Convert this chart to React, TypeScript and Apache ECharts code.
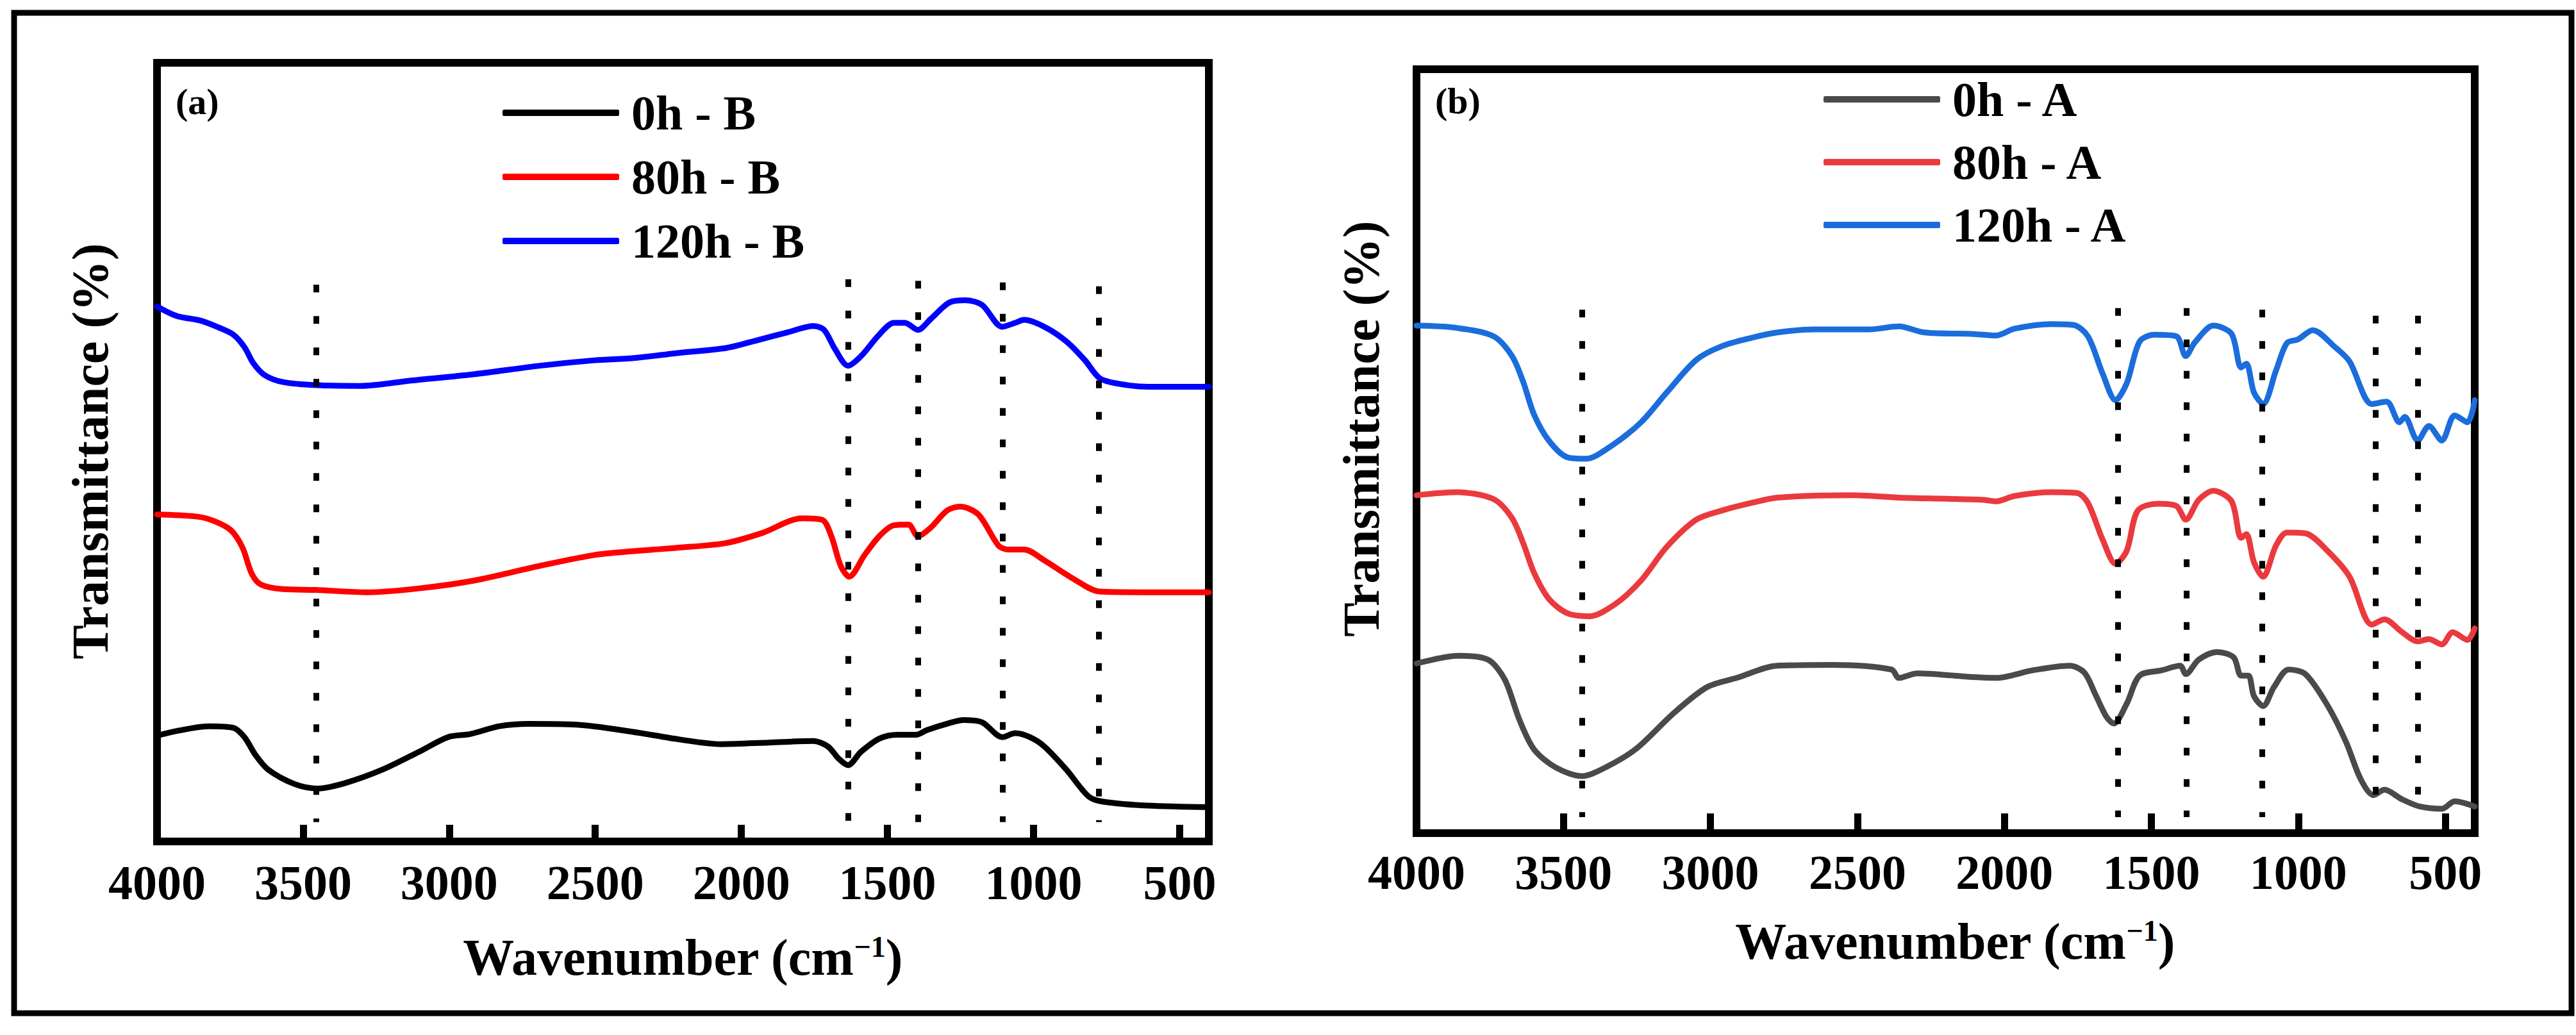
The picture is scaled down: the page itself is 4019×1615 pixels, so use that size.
import * as echarts from "echarts";
import { useEffect, useRef } from "react";
import type { EChartsOption } from "echarts";

const FONT = "'Liberation Serif', 'Times New Roman', serif";

// wavenumber (cm-1) ticks shared by both panels
const tickValues = [4000, 3500, 3000, 2500, 2000, 1500, 1000, 500];

// panel (a)
const namesA = ["0h - B", "80h - B", "120h - B"];
const colorsA = ["#000000", "#ff0000", "#0000ff"];
const peaksA = [3455, 1634, 1395, 1106, 777];
const peakTopsA = [71.5, 72.2, 72.0, 71.8, 71.3];

const curve0hB: [number, number][] = [
  [4000, 13.6], [3820, 14.8], [3739, 14.6], [3701, 13.4], [3663, 11.1], [3619, 9.2],
  [3531, 7.4], [3450, 6.8], [3356, 7.5], [3230, 9.2], [3104, 11.5], [3004, 13.4],
  [2928, 13.8], [2828, 14.8], [2727, 15.1], [2564, 15.0], [2375, 14.1], [2212, 13.1],
  [2069, 12.5], [1905, 12.7], [1754, 12.9], [1704, 12.2], [1666, 10.6], [1635, 9.8],
  [1591, 11.5], [1528, 13.2], [1465, 13.7], [1402, 13.7], [1365, 14.3], [1289, 15.2],
  [1239, 15.6], [1176, 15.3], [1107, 13.4], [1063, 13.9], [1013, 13.4], [963, 12.2],
  [887, 9.2], [812, 5.8], [761, 5.1], [611, 4.6], [400, 4.4],
];

const curve80hB: [number, number][] = [
  [4000, 42.0], [3858, 41.7], [3795, 41.0], [3745, 39.9], [3707, 37.7], [3676, 34.4],
  [3645, 33.0], [3569, 32.4], [3456, 32.3], [3280, 32.0], [3104, 32.5], [2916, 33.5],
  [2689, 35.4], [2501, 36.8], [2363, 37.3], [2225, 37.7], [2056, 38.3], [1930, 39.6],
  [1792, 41.5], [1723, 41.3], [1692, 39.2], [1660, 35.4], [1631, 34.0], [1578, 36.8],
  [1528, 39.2], [1478, 40.6], [1428, 40.7], [1396, 39.2], [1352, 40.3], [1296, 42.5],
  [1252, 43.0], [1189, 42.0], [1120, 38.0], [1088, 37.5], [1032, 37.5], [963, 36.1],
  [862, 33.7], [774, 32.1], [586, 32.0], [400, 32.0],
];

const curve120hB: [number, number][] = [
  [4000, 68.7], [3934, 67.5], [3852, 66.9], [3795, 66.1], [3739, 65.1], [3701, 63.5],
  [3670, 61.4], [3632, 59.9], [3569, 59.0], [3456, 58.6], [3305, 58.5], [3129, 59.2],
  [2916, 60.0], [2689, 61.1], [2501, 61.8], [2363, 62.1], [2225, 62.7], [2049, 63.4],
  [1943, 64.4], [1840, 65.4], [1754, 66.2], [1717, 65.7], [1679, 63.2], [1635, 61.1],
  [1591, 62.3], [1528, 65.1], [1478, 66.6], [1440, 66.6], [1396, 65.7], [1352, 67.1],
  [1289, 69.2], [1233, 69.5], [1176, 68.9], [1107, 66.1], [1063, 66.6], [1032, 67.0],
  [963, 66.1], [887, 64.2], [824, 61.8], [774, 59.5], [711, 58.8], [611, 58.4], [400, 58.4],
];

// panel (b)
const namesB = ["0h - A", "80h - A", "120h - A"];
const colorsB = ["#4a4a4a", "#ea3a3e", "#1b6ddc"];
const peaksB = [3437, 1615, 1380, 1124, 738, 594];
const peakTopsB = [68.4, 68.6, 68.6, 68.4, 67.6, 67.6];

const curve0hA: [number, number][] = [
  [4000, 21.9], [3857, 22.9], [3757, 22.4], [3700, 19.8], [3650, 14.5], [3600, 10.6],
  [3525, 8.2], [3437, 7.1], [3349, 8.4], [3249, 10.8], [3124, 15.4], [3011, 18.8],
  [2911, 20.0], [2773, 21.6], [2585, 21.7], [2384, 21.1], [2359, 20.0], [2297, 20.6],
  [2104, 20.1], [2029, 20.0], [1903, 21.0], [1778, 21.6], [1728, 20.7], [1690, 17.8],
  [1653, 14.9], [1628, 14.0], [1584, 16.6], [1540, 20.3], [1465, 21.0], [1402, 21.6],
  [1383, 20.5], [1339, 22.4], [1277, 23.4], [1220, 22.7], [1195, 20.3], [1170, 20.3],
  [1151, 17.6], [1120, 16.3], [1083, 18.8], [1033, 21.1], [976, 20.5], [901, 16.4],
  [838, 11.6], [788, 6.7], [744, 4.6], [707, 5.3], [650, 4.1], [587, 3.1], [512, 2.8],
  [468, 3.8], [400, 3.1],
];

const curve80hA: [number, number][] = [
  [4000, 44.0], [3863, 44.4], [3738, 43.5], [3675, 41.0], [3637, 37.7], [3600, 33.8],
  [3550, 30.4], [3487, 28.5], [3412, 28.1], [3324, 29.7], [3236, 32.8], [3149, 37.2],
  [3048, 40.8], [2961, 42.0], [2860, 43.0], [2773, 43.7], [2522, 44.0], [2359, 43.7],
  [2071, 43.4], [2029, 43.2], [1966, 43.9], [1841, 44.4], [1753, 44.3], [1716, 43.0],
  [1665, 38.1], [1622, 35.0], [1584, 36.7], [1546, 42.0], [1477, 42.9], [1415, 42.6],
  [1383, 40.8], [1339, 43.4], [1289, 44.6], [1227, 43.2], [1195, 38.4], [1177, 38.9],
  [1151, 35.2], [1120, 33.3], [1076, 37.4], [1039, 39.1], [976, 39.0], [901, 36.7],
  [826, 33.3], [750, 27.0], [707, 27.7], [650, 26.1], [594, 24.8], [556, 25.1],
  [512, 24.4], [475, 26.0], [425, 25.0], [400, 26.5],
];

const curve120hA: [number, number][] = [
  [4000, 66.3], [3863, 66.0], [3738, 64.9], [3675, 62.3], [3637, 58.9], [3600, 54.6],
  [3550, 51.2], [3487, 49.0], [3424, 48.8], [3337, 50.5], [3236, 53.6], [3149, 57.5],
  [3048, 61.8], [2961, 63.6], [2860, 64.7], [2773, 65.4], [2647, 65.8], [2460, 65.8],
  [2359, 66.2], [2272, 65.4], [2104, 65.2], [2029, 65.0], [1966, 65.9], [1841, 66.5],
  [1766, 66.4], [1716, 64.9], [1665, 59.9], [1622, 56.5], [1584, 58.7], [1540, 64.2],
  [1490, 65.1], [1415, 64.9], [1383, 62.3], [1352, 64.1], [1289, 66.3], [1227, 65.2],
  [1195, 60.8], [1177, 61.3], [1151, 57.5], [1120, 56.0], [1076, 60.4], [1039, 64.0],
  [1001, 64.5], [951, 65.7], [876, 63.5], [826, 61.6], [750, 56.0], [700, 56.3],
  [656, 53.6], [638, 54.3], [594, 51.2], [556, 53.1], [512, 51.2], [468, 54.5],
  [425, 53.6], [400, 56.5],
];

const boldText = {
  fontFamily: FONT,
  fontWeight: "bold" as const,
  color: "#000",
};

function xAxis(gridIndex: number, margin: number) {
  return {
    type: "value" as const,
    gridIndex,
    min: 400,
    max: 4000,
    inverse: true,
    axisLine: { show: false },
    axisTick: {
      show: true,
      inside: true,
      length: 26,
      customValues: tickValues,
      lineStyle: { color: "#000", width: 11 },
    },
    axisLabel: {
      ...boldText,
      fontSize: 76,
      margin,
      customValues: tickValues,
      formatter: (v: number) => String(v),
    },
    splitLine: { show: false },
  };
}

function curve(
  name: string,
  data: [number, number][],
  color: string,
  index: number,
) {
  return {
    type: "line" as const,
    name,
    data,
    xAxisIndex: index,
    yAxisIndex: index,
    symbol: "none",
    smooth: 0.3,
    silent: true,
    lineStyle: { color, width: 9, cap: "round" as const, join: "round" as const },
    itemStyle: { color },
  };
}

function peakLines(peaks: number[], tops: number[], bottom: number) {
  return {
    silent: true,
    symbol: "none",
    label: { show: false },
    lineStyle: { color: "#000", width: 9, type: [12, 37], cap: "butt" as const },
    data: peaks.map((p, i) => [{ coord: [p, tops[i]] }, { coord: [p, bottom] }]),
  };
}

function legend(names: string[], left: number, top: number, gap: number) {
  return {
    data: names,
    orient: "vertical" as const,
    left,
    top,
    padding: 0,
    itemWidth: 182,
    itemHeight: 10,
    itemGap: gap,
    icon: "roundRect",
    selectedMode: false,
    textStyle: { ...boldText, fontSize: 76, padding: [0, 0, 0, 14] },
  };
}

function axisTitle(x: number, y: number) {
  return {
    type: "text" as const,
    x,
    y,
    silent: true,
    style: {
      text: "{t|Wavenumber (cm}{s|−1}{t|)}",
      align: "center",
      verticalAlign: "middle",
      rich: {
        t: { fontFamily: FONT, fontWeight: "bold", fontSize: 80, fill: "#000" },
        s: {
          fontFamily: FONT,
          fontWeight: "bold",
          fontSize: 46,
          fill: "#000",
          verticalAlign: "top",
        },
      },
    },
  };
}

function yTitle(x: number, y: number) {
  return {
    type: "text" as const,
    x,
    y,
    rotation: Math.PI / 2,
    silent: true,
    style: {
      text: "Transmittance (%)",
      fontFamily: FONT,
      fontWeight: "bold",
      fontSize: 80,
      fill: "#000",
      align: "center",
      verticalAlign: "middle",
    },
  };
}

function panelTag(text: string, x: number, y: number) {
  return {
    type: "text" as const,
    x,
    y,
    silent: true,
    style: {
      text,
      fontFamily: FONT,
      fontWeight: "bold",
      fontSize: 58,
      fill: "#000",
      align: "left",
      verticalAlign: "middle",
    },
  };
}

const option: EChartsOption = {
  animation: false,
  backgroundColor: "#ffffff",
  grid: [
    {
      left: 245,
      top: 98,
      width: 1641,
      height: 1215,
      show: true,
      borderColor: "#000",
      borderWidth: 12,
      containLabel: false,
      outerBoundsMode: "none",
    } as any,
    {
      left: 2210,
      top: 108,
      width: 1651,
      height: 1192,
      show: true,
      borderColor: "#000",
      borderWidth: 12,
      containLabel: false,
      outerBoundsMode: "none",
    } as any,
  ],
  xAxis: [xAxis(0, 26), xAxis(1, 23)] as any,
  yAxis: [
    { type: "value", gridIndex: 0, min: 0, max: 100, show: false },
    { type: "value", gridIndex: 1, min: -0.4, max: 100, show: false },
  ],
  legend: [legend(namesA, 784, 138, 24), legend(namesB, 2845, 117, 22)] as any,
  series: [
    { ...curve(namesA[0], curve0hB, colorsA[0], 0), markLine: peakLines(peaksA, peakTopsA, 2.5) },
    curve(namesA[1], curve80hB, colorsA[1], 0),
    curve(namesA[2], curve120hB, colorsA[2], 0),
    { ...curve(namesB[0], curve0hA, colorsB[0], 1), markLine: peakLines(peaksB, peakTopsB, 1.7) },
    curve(namesB[1], curve80hA, colorsB[1], 1),
    curve(namesB[2], curve120hA, colorsB[2], 1),
  ] as any,
  graphic: [
    {
      type: "rect",
      silent: true,
      shape: { x: 22, y: 20, width: 3990, height: 1561 },
      style: { fill: "none", stroke: "#000", lineWidth: 9 },
    },
    panelTag("(a)", 274, 158),
    panelTag("(b)", 2239, 157),
    yTitle(141, 704),
    yTitle(2124, 669),
    axisTitle(1065, 1494),
    axisTitle(3050, 1469),
  ] as any,
};

export default function App() {
  const chartRef = useRef<HTMLDivElement>(null);

  useEffect(() => {
    if (!chartRef.current) return;
    const chart = echarts.init(chartRef.current, undefined, { renderer: "svg" });
    chart.setOption(option);
    return () => {
      chart.dispose();
    };
  }, []);

  return (
    <div
      ref={chartRef}
      style={{
        position: "absolute",
        left: 0,
        top: 0,
        width: 4019,
        height: 1615,
        background: "#fff",
      }}
    />
  );
}
